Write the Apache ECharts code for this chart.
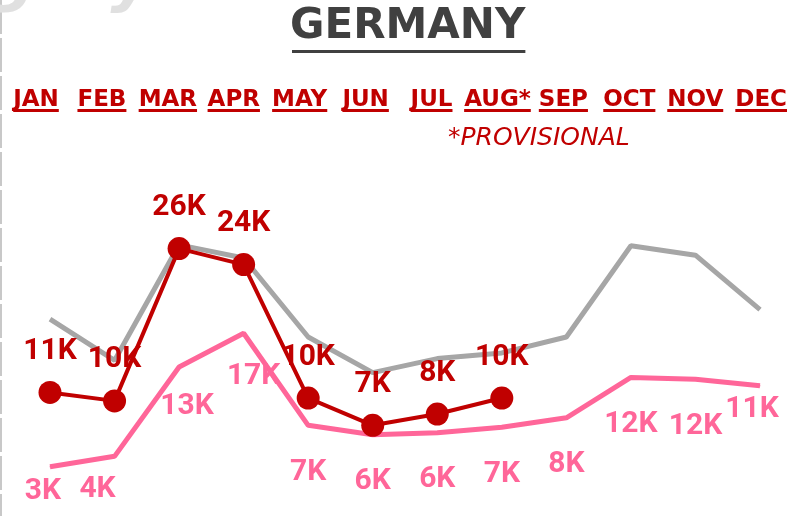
<!DOCTYPE html>
<html>
<head>
<meta charset="utf-8">
<script src="https://cdn.jsdelivr.net/npm/echarts@6/dist/echarts.min.js"></script>
<style>
  html, body { margin: 0; padding: 0; background: #fff; }
  #main { width: 790px; height: 516px; }
</style>
</head>
<body>
<div id="main"></div>
<script>
var months = ['JAN', 'FEB', 'MAR', 'APR', 'MAY', 'JUN', 'JUL', 'AUG*', 'SEP', 'OCT', 'NOV', 'DEC'];
// values in thousands
var greyYear = [18.5, 14.1, 26.4, 25.0, 16.6, 12.8, 14.3, 14.9, 16.6, 26.3, 25.3, 19.5];
var pinkYear = [2.8, 3.9, 13.4, 17.0, 7.2, 6.2, 6.4, 7.0, 8.0, 12.3, 12.1, 11.4];
var redYear = [10.7, 9.8, 26.0, 24.3, 10.1, 7.2, 8.4, 10.1];

var red = '#C00000', pink = '#FF6699', grey = '#A6A6A6';

function kLabel(p) {
    return Math.round(p.value) + 'K';
}

// a few pink labels were nudged by hand in the original
var pinkNudge = { 0: [-7, 25], 1: [-17, 33], 2: [8, 39], 3: [10, 43], 11: [-8, 24] };
var pinkData = pinkYear.map(function (v, i) {
    var d = { value: v };
    if (pinkNudge[i]) d.label = { offset: pinkNudge[i] };
    return d;
});

var labelFont = { fontFamily: 'Roboto', fontWeight: 'bold', fontSize: 30, textBorderWidth: 0 };

var option = {
    animation: false,
    title: [
        {
            text: 'GERMANY', left: 290, top: 6, padding: 0,
            textStyle: { fontFamily: 'DejaVu Sans', fontWeight: 'bold', fontSize: 42, color: '#404040' }
        },
        {
            text: '*PROVISIONAL', left: 448, top: 126, padding: 0,
            textStyle: { fontFamily: 'DejaVu Sans', fontStyle: 'italic', fontWeight: 'normal', fontSize: 25, color: red }
        }
    ],
    grid: [
        { left: 50, right: 30, top: 211, bottom: 23 },
        { left: 36, right: 27, top: 113, height: 1 }
    ],
    xAxis: [
        { gridIndex: 0, type: 'category', data: months, boundaryGap: false, show: false },
        {
            gridIndex: 1, type: 'category', data: months, boundaryGap: false, position: 'top',
            axisLine: { show: false }, axisTick: { show: false }, splitLine: { show: false },
            axisLabel: { interval: 0, margin: 1, color: red, fontFamily: 'DejaVu Sans', fontWeight: 'bold', fontSize: 23 }
        }
    ],
    yAxis: [
        { gridIndex: 0, type: 'value', min: 0, max: 30, show: false },
        { gridIndex: 1, type: 'value', show: false }
    ],
    series: [
        {
            name: 'grey', type: 'line', data: greyYear,
            symbol: 'none',
            lineStyle: { color: grey, width: 5 },
            itemStyle: { color: grey }
        },
        {
            name: 'pink', type: 'line', data: pinkData,
            symbol: 'circle', symbolSize: 1,
            lineStyle: { color: pink, width: 5 },
            itemStyle: { color: pink },
            label: Object.assign({ show: true, position: 'inside', offset: [0, 47], color: pink, formatter: kLabel }, labelFont)
        },
        {
            name: 'red', type: 'line', data: redYear,
            symbol: 'circle', symbolSize: 23,
            lineStyle: { color: red, width: 4 },
            itemStyle: { color: red },
            label: Object.assign({ show: true, position: 'inside', offset: [0, -41], color: red, formatter: kLabel }, labelFont)
        }
    ]
};

var chart = echarts.init(document.getElementById('main'));
chart.setOption(option);

// underlines for the month row and the title
var ctx = document.createElement('canvas').getContext('2d');
ctx.font = 'bold 23px "DejaVu Sans"';
var marks = months.map(function (m, i) {
    var cx = chart.convertToPixel({ xAxisIndex: 1 }, i);
    var w = ctx.measureText(m).width;
    return { type: 'rect', silent: true, shape: { x: cx - w / 2, y: 109, width: w, height: 3 }, style: { fill: red } };
});
ctx.font = 'bold 42px "DejaVu Sans"';
marks.push({
    type: 'rect', silent: true,
    shape: { x: 292, y: 50, width: ctx.measureText('GERMANY').width - 2, height: 3 },
    style: { fill: '#404040' }
});
marks.push({
    type: 'line', silent: true,
    shape: { x1: 1, y1: 0, x2: 1, y2: 516 },
    style: { stroke: '#c8c8c8', lineWidth: 2, lineDash: [34, 4] }
});
marks.push({
    type: 'text', silent: true, x: -10, y: -50,
    style: { text: 'gary', font: 'bold italic 64px "DejaVu Sans"', fill: '#e0e0e0' }
});
chart.setOption({ graphic: marks });
</script>
</body>
</html>
